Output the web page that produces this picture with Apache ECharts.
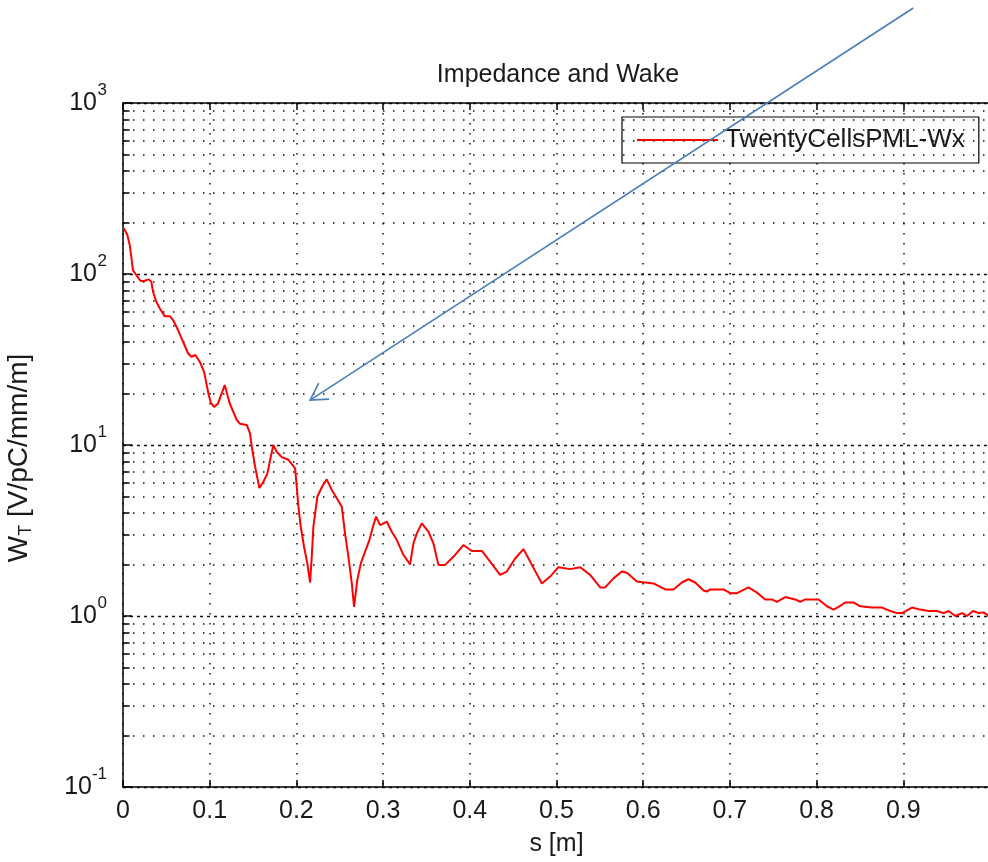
<!DOCTYPE html>
<html>
<head>
<meta charset="utf-8">
<script src="https://cdn.jsdelivr.net/npm/echarts@6/dist/echarts.min.js"></script>
<style>
  html, body { margin: 0; padding: 0; background: #fff; }
  #chart { width: 988px; height: 862px; }
</style>
</head>
<body>
<div id="chart"></div>
<script>
// wake data: s [m] and W_T [V/pC/mm/m]
const sVals = [
  0.001, 0.005, 0.0077, 0.0096, 0.0115, 0.0153, 0.0204, 0.025, 0.0297, 0.0327,
  0.0346, 0.0384, 0.0423, 0.0481, 0.0539, 0.0577, 0.0635, 0.0692, 0.075, 0.0788,
  0.0834, 0.0885, 0.0935, 0.0961, 0.0989, 0.1012, 0.105, 0.1096, 0.1173, 0.1231,
  0.1312, 0.135, 0.1427, 0.1465, 0.1485, 0.1523, 0.1573, 0.1619, 0.1665, 0.1704,
  0.1734, 0.1773, 0.1831, 0.1907, 0.1985, 0.2004, 0.2023, 0.205, 0.2088, 0.2126,
  0.2158, 0.2177, 0.2196, 0.2242, 0.2293, 0.235, 0.2408, 0.2466, 0.2523, 0.2561,
  0.26, 0.2639, 0.2665, 0.2703, 0.2743, 0.2792, 0.2842, 0.2888, 0.2919, 0.2965,
  0.3043, 0.31, 0.3158, 0.3234, 0.3311, 0.335, 0.3389, 0.3446, 0.3523, 0.358,
  0.3638, 0.3715, 0.3811, 0.3926, 0.4023, 0.4139, 0.4234, 0.435, 0.4427, 0.4523,
  0.4619, 0.4716, 0.4831, 0.4927, 0.5022, 0.5157, 0.5273, 0.5388, 0.5504, 0.5561,
  0.5657, 0.5754, 0.5812, 0.5927, 0.6119, 0.6254, 0.6349, 0.6446, 0.6522, 0.66,
  0.6696, 0.6735, 0.6773, 0.6926, 0.7004, 0.7081, 0.7215, 0.7312, 0.7407, 0.7485,
  0.7542, 0.7638, 0.7773, 0.7811, 0.7869, 0.8022, 0.8119, 0.8196, 0.8253, 0.833,
  0.8426, 0.8503, 0.8638, 0.8754, 0.885, 0.8927, 0.8985, 0.91, 0.9196, 0.9292,
  0.9388, 0.9465, 0.9522, 0.96, 0.9677, 0.9735, 0.9804, 0.9869, 0.9926, 0.9984
];
const wVals = [
  185, 169, 148, 126, 105, 98.6, 91, 91.4, 93, 90,
  78.8, 68.9, 63, 56.7, 56.7, 53.8, 47, 40.2, 34.4, 32.8,
  33.6, 30.7, 26.8, 23, 19.6, 17.7, 16.7, 17.5, 22.4, 17.5,
  14, 13.3, 13.1, 11.7, 9.8, 7.5, 5.6, 6.1, 6.8, 8.5,
  10, 9.1, 8.5, 8.2, 7.3, 5.7, 4.36, 3.33, 2.54, 2.03,
  1.57, 2.22, 3.33, 5.0, 5.66, 6.3, 5.46, 4.88, 4.36, 3.04,
  2.22, 1.55, 1.13, 1.63, 2.03, 2.38, 2.78, 3.4, 3.81, 3.4,
  3.56, 3.11, 2.78, 2.28, 2.0, 2.66, 3.04, 3.48, 3.11, 2.66,
  1.99, 1.99, 2.22, 2.6, 2.4, 2.4, 2.08, 1.74, 1.82, 2.17,
  2.46, 1.99, 1.55, 1.70, 1.93, 1.88, 1.93, 1.74, 1.47, 1.47,
  1.66, 1.82, 1.79, 1.59, 1.55, 1.43, 1.43, 1.57, 1.64, 1.57,
  1.41, 1.39, 1.43, 1.43, 1.36, 1.36, 1.47, 1.37, 1.25, 1.25,
  1.21, 1.29, 1.24, 1.21, 1.25, 1.25, 1.14, 1.09, 1.13, 1.20,
  1.20, 1.14, 1.12, 1.12, 1.07, 1.04, 1.04, 1.12, 1.09, 1.07,
  1.07, 1.04, 1.07, 1.0, 1.04, 1.0, 1.07, 1.04, 1.05, 1.0
];

const seriesName = 'TwentyCellsPML-Wx';
const decades = [0.1, 1, 10, 100];
const minorMults = [2, 3, 4, 5, 6, 7, 8, 9];
// annotation arrow, in data units (s, W)
const arrowFrom = [0.9115, 3593];
const arrowTo = [0.2158, 18.3];

const font = '"Liberation Sans", Arial, sans-serif';
const txt = '#1a1a1a';

const minorVals = [];
decades.forEach(d => minorMults.forEach(m => minorVals.push(d * m)));

const dotted = { color: '#111', width: 1.5, type: [1.5, 8.5] };

const minorLines = minorVals.map(v => ({ yAxis: v, lineStyle: dotted }));
const minorTicks = minorVals.map(v => [
  { coord: [0, v], lineStyle: { color: '#000', width: 1.5, type: 'solid' } },
  { coord: [0.0075, v] }
]);

// "10" with a raised exponent: exponent on a thin first line, base on the second
function powLabel(v) {
  const e = Math.round(Math.log10(v));
  return '{s|' + e + '}\n{' + (e < 0 ? 'bn' : 'b') + '|10}';
}

const chart = echarts.init(document.getElementById('chart'), null, { renderer: 'canvas' });

const option = {
  animation: false,
  backgroundColor: '#fff',
  title: {
    text: 'Impedance and Wake',
    left: 553,
    textAlign: 'center',
    top: 58,
    textStyle: { fontFamily: font, fontSize: 25, fontWeight: 'normal', color: txt }
  },
  legend: {
    data: [seriesName],
    left: 622,
    top: 117,
    icon: 'rect',
    itemWidth: 81,
    itemHeight: 2,
    itemGap: 0,
    padding: [10, 14, 10, 15],
    backgroundColor: '#fff',
    borderColor: '#000',
    borderWidth: 1.2,
    borderRadius: 0,
    textStyle: { fontFamily: font, fontSize: 26, color: txt, padding: [0, 0, 0, 2] }
  },
  grid: {
    left: 123,
    top: 103,
    width: 867,
    height: 684,
    containLabel: false,
    outerBoundsMode: 'none'
  },
  xAxis: [
    {
      type: 'value',
      min: 0,
      max: 1,
      interval: 0.1,
      name: 's [m]',
      nameLocation: 'middle',
      nameGap: 45,
      nameTextStyle: { fontFamily: font, fontSize: 25, color: txt },
      axisLine: { lineStyle: { color: '#000', width: 1.5 } },
      axisTick: { inside: true, length: 7, lineStyle: { color: '#000', width: 1.5 } },
      axisLabel: {
        margin: 12,
        fontFamily: font,
        fontSize: 25,
        color: txt,
        formatter: v => (v >= 1 ? '' : String(+v.toFixed(1)))
      },
      splitLine: { show: true, lineStyle: dotted }
    },
    {
      type: 'value',
      position: 'top',
      min: 0,
      max: 1,
      interval: 0.1,
      axisLine: { show: true, onZero: false, lineStyle: { color: '#000', width: 1.5 } },
      axisTick: { show: true, inside: true, length: 7, lineStyle: { color: '#000', width: 1.5 } },
      axisLabel: { show: false },
      splitLine: { show: false }
    }
  ],
  yAxis: {
    type: 'log',
    logBase: 10,
    min: 0.1,
    max: 1000,
    splitNumber: 4,
    name: '{a|W}{b|T}{c| [V/pC/mm/m]}',
    nameLocation: 'middle',
    nameRotate: 90,
    nameGap: 88,
    nameTextStyle: {
      rich: {
        a: { fontFamily: font, fontSize: 28, color: txt, lineHeight: 32, verticalAlign: 'middle' },
        b: { fontFamily: font, fontSize: 18, color: txt, lineHeight: 32, verticalAlign: 'bottom', padding: [12, 0, 0, 0] },
        c: { fontFamily: font, fontSize: 28, color: txt, lineHeight: 32, verticalAlign: 'middle', padding: [0, 26, 0, 0] }
      }
    },
    axisLine: { show: true, lineStyle: { color: '#000', width: 1.5 } },
    axisTick: { show: true, inside: true, length: 9, lineStyle: { color: '#000', width: 1.5 } },
    axisLabel: {
      margin: 16,
      formatter: powLabel,
      rich: {
        s: { fontFamily: font, fontSize: 17, color: txt, lineHeight: 2, align: 'right' },
        b: { fontFamily: font, fontSize: 25, color: txt, lineHeight: 25, padding: [0, 10, 2, 0] },
        bn: { fontFamily: font, fontSize: 25, color: txt, lineHeight: 25, padding: [0, 15, 2, 0] }
      }
    },
    splitLine: { show: true, lineStyle: { color: '#111', width: 1.4, type: [3, 4] } }
  },
  series: [
    {
      name: seriesName,
      type: 'line',
      xAxisIndex: 0,
      yAxisIndex: 0,
      data: sVals.map((s, i) => [s, wVals[i]]),
      showSymbol: false,
      symbol: 'none',
      lineStyle: { color: '#ff0000', width: 2 },
      itemStyle: { color: '#ff0000' },
      z: 5,
      markLine: {
        silent: true,
        symbol: 'none',
        animation: false,
        label: { show: false },
        emphasis: { disabled: true },
        data: minorLines.concat(minorTicks)
      }
    }
  ]
};

chart.setOption(option);

// blue annotation arrow, placed through the axes' own scales
const p0 = chart.convertToPixel({ xAxisIndex: 0, yAxisIndex: 0 }, arrowFrom);
const p1 = chart.convertToPixel({ xAxisIndex: 0, yAxisIndex: 0 }, arrowTo);
const ang = Math.atan2(p0[1] - p1[1], p0[0] - p1[0]);
const headLen = 19;
const spread = Math.PI / 6;
const wing = a => [p1[0] + headLen * Math.cos(a), p1[1] + headLen * Math.sin(a)];
const blue = '#4a7ebb';

chart.setOption({
  graphic: [
    {
      type: 'line',
      z: 100,
      shape: { x1: p0[0], y1: p0[1], x2: p1[0], y2: p1[1] },
      style: { stroke: blue, lineWidth: 1.6 }
    },
    {
      type: 'polyline',
      z: 100,
      shape: { points: [wing(ang - spread), p1, wing(ang + spread)] },
      style: { stroke: blue, lineWidth: 1.6, fill: null }
    }
  ]
});
</script>
</body>
</html>
